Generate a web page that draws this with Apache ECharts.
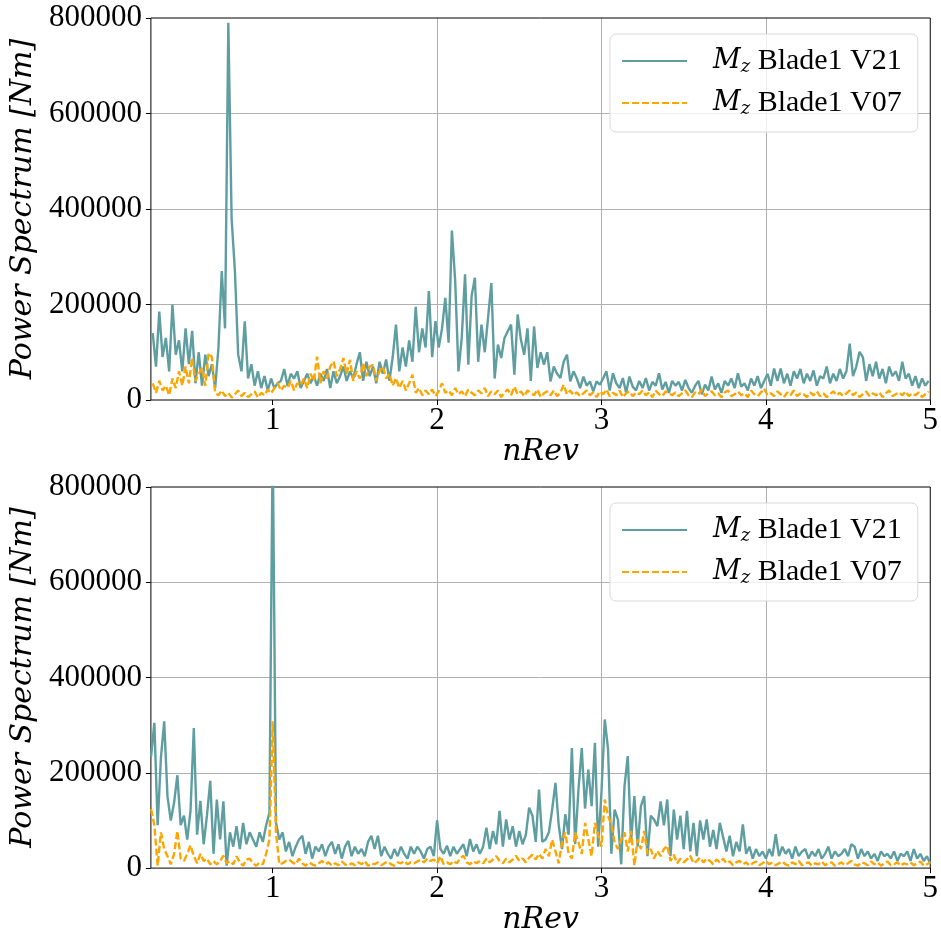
<!DOCTYPE html>
<html>
<head>
<meta charset="utf-8">
<script src="https://cdn.jsdelivr.net/npm/echarts@6/dist/echarts.min.js"></script>
<style>
  html, body { margin: 0; padding: 0; background: #fff; }
  #chart { width: 941px; height: 936px; }
</style>
</head>
<body>
<div id="chart"></div>
<script>
// frequency bins (nRev), uniform spacing of the spectrum
const topFreqStart = 0.27;
const bottomFreqStart = 0.26;
const freqStep = 0.02;

const xTicks = [1, 2, 3, 4, 5];
const yTicks = [0, 200000, 400000, 600000, 800000];

// upper panel
const topV21 = [
  140e3,70e3,185e3,90e3,130e3,60e3,200e3,95e3,125e3,60e3,
  150e3,75e3,145e3,35e3,100e3,30e3,95e3,50e3,75e3,25e3,
  110e3,270e3,150e3,790e3,380e3,270e3,95e3,60e3,165e3,45e3,
  75e3,30e3,60e3,25e3,50e3,20e3,45e3,25e3,35e3,40e3,
  65e3,30e3,55e3,45e3,60e3,25e3,40e3,55e3,35e3,50e3,
  30e3,55e3,40e3,65e3,25e3,60e3,35e3,50e3,70e3,40e3,
  60e3,45e3,75e3,100e3,40e3,80e3,50e3,70e3,35e3,80e3,
  55e3,85e3,40e3,90e3,158e3,60e3,110e3,70e3,125e3,80e3,
  195e3,100e3,150e3,110e3,228e3,90e3,165e3,110e3,150e3,214e3,
  120e3,355e3,250e3,60e3,130e3,263e3,74e3,218e3,256e3,80e3,
  158e3,100e3,172e3,245e3,45e3,116e3,88e3,130e3,144e3,158e3,
  53e3,179e3,126e3,95e3,150e3,40e3,154e3,67e3,100e3,74e3,
  100e3,39e3,70e3,55e3,46e3,80e3,95e3,39e3,60e3,45e3,
  25e3,49e3,30e3,39e3,18e3,39e3,32e3,45e3,60e3,20e3,
  56e3,35e3,25e3,46e3,15e3,49e3,28e3,20e3,40e3,25e3,
  46e3,20e3,38e3,30e3,56e3,22e3,38e3,15e3,40e3,30e3,
  38e3,20e3,42e3,25e3,15e3,30e3,40e3,12e3,32e3,20e3,
  49e3,22e3,35e3,15e3,40e3,30e3,45e3,25e3,56e3,28e3,
  35e3,20e3,45e3,30e3,50e3,25e3,40e3,55e3,30e3,66e3,
  40e3,66e3,35e3,55e3,30e3,60e3,45e3,65e3,35e3,55e3,
  40e3,62e3,30e3,50e3,45e3,70e3,35e3,55e3,40e3,65e3,
  45e3,60e3,118e3,50e3,70e3,101e3,90e3,40e3,75e3,50e3,
  80e3,45e3,65e3,35e3,70e3,50e3,60e3,40e3,80e3,45e3,
  55e3,30e3,50e3,25e3,45e3,30e3,40e3
];
const topV07 = [
  35e3,15e3,40e3,20e3,30e3,10e3,45e3,25e3,60e3,30e3,
  70e3,35e3,88e3,40e3,55e3,67e3,30e3,98e3,90e3,15e3,
  10e3,20e3,8e3,15e3,5e3,12e3,20e3,8e3,15e3,6e3,
  12e3,18e3,5e3,15e3,10e3,22e3,14e3,25e3,35e3,20e3,
  30e3,25e3,40e3,20e3,35e3,30e3,45e3,25e3,55e3,40e3,
  91e3,35e3,60e3,45e3,70e3,81e3,50e3,65e3,88e3,55e3,
  84e3,40e3,60e3,45e3,77e3,50e3,70e3,74e3,40e3,60e3,
  70e3,45e3,55e3,30e3,46e3,25e3,40e3,20e3,35e3,53e3,
  15e3,25e3,10e3,20e3,12e3,22e3,8e3,18e3,35e3,15e3,
  20e3,10e3,25e3,12e3,18e3,8e3,22e3,15e3,10e3,20e3,
  14e3,25e3,8e3,18e3,12e3,20e3,6e3,16e3,22e3,10e3,
  28e3,12e3,18e3,8e3,20e3,15e3,10e3,22e3,6e3,14e3,
  18e3,10e3,20e3,8e3,15e3,32e3,12e3,20e3,10e3,16e3,
  8e3,14e3,20e3,10e3,16e3,6e3,18e3,12e3,22e3,8e3,
  15e3,10e3,20e3,6e3,14e3,18e3,8e3,16e3,12e3,20e3,
  10e3,16e3,6e3,20e3,12e3,8e3,18e3,14e3,10e3,16e3,
  8e3,14e3,20e3,10e3,6e3,16e3,12e3,22e3,8e3,14e3,
  18e3,10e3,14e3,6e3,16e3,20e3,8e3,12e3,18e3,10e3,
  14e3,6e3,20e3,12e3,8e3,16e3,24e3,10e3,14e3,8e3,
  18e3,12e3,6e3,16e3,10e3,20e3,8e3,14e3,12e3,6e3,
  16e3,10e3,18e3,8e3,14e3,6e3,12e3,18e3,10e3,15e3,
  8e3,14e3,20e3,10e3,16e3,6e3,12e3,18e3,8e3,14e3,
  10e3,16e3,6e3,14e3,20e3,8e3,12e3,16e3,10e3,18e3,
  8e3,14e3,10e3,16e3,6e3,12e3,18e3
];

// lower panel
const bottomV21 = [
  234e3,305e3,90e3,232e3,308e3,150e3,100e3,137e3,195e3,90e3,
  110e3,60e3,120e3,294e3,70e3,141e3,50e3,110e3,183e3,30e3,
  144e3,60e3,140e3,5e3,75e3,45e3,88e3,40e3,95e3,50e3,
  75e3,60e3,45e3,75e3,55e3,90e3,116e3,900e3,95e3,60e3,
  75e3,35e3,55e3,25e3,45e3,60e3,68e3,30e3,55e3,20e3,
  45e3,35e3,50e3,25e3,45e3,55e3,30e3,50e3,20e3,45e3,
  57e3,25e3,45e3,30e3,40e3,25e3,55e3,68e3,40e3,68e3,
  25e3,45e3,30e3,20e3,40e3,25e3,45e3,30e3,20e3,45e3,
  30e3,45e3,35e3,20e3,40e3,45e3,25e3,100e3,40e3,30e3,
  47e3,25e3,45e3,30e3,40e3,50e3,25e3,61e3,35e3,50e3,
  30e3,45e3,85e3,40e3,78e3,50e3,120e3,45e3,102e3,60e3,
  88e3,45e3,78e3,50e3,70e3,127e3,110e3,55e3,165e3,55e3,
  60e3,75e3,123e3,179e3,90e3,40e3,113e3,70e3,252e3,50e3,
  165e3,252e3,125e3,207e3,130e3,263e3,45e3,160e3,312e3,249e3,
  30e3,123e3,102e3,8e3,172e3,235e3,55e3,151e3,45e3,130e3,
  151e3,25e3,110e3,102e3,88e3,140e3,90e3,144e3,25e3,123e3,
  60e3,110e3,40e3,120e3,35e3,95e3,25e3,100e3,60e3,102e3,
  45e3,80e3,40e3,95e3,65e3,35e3,68e3,25e3,55e3,35e3,
  92e3,30e3,45e3,20e3,40e3,25e3,35e3,20e3,40e3,25e3,
  71e3,25e3,45e3,30e3,40e3,20e3,45e3,25e3,35e3,40e3,
  20e3,35e3,25e3,40e3,20e3,30e3,45e3,20e3,35e3,25e3,
  30e3,40e3,25e3,50e3,45e3,20e3,40e3,25e3,35e3,20e3,
  30e3,15e3,35e3,25e3,30e3,20e3,35e3,15e3,30e3,25e3,
  35e3,15e3,40e3,20e3,30e3,15e3,25e3,10e3
];
const bottomV07 = [
  124e3,90e3,5e3,75e3,40e3,25e3,8e3,30e3,78e3,20e3,
  15e3,30e3,48e3,25e3,10e3,30e3,15e3,20e3,8e3,15e3,
  8e3,15e3,26e3,10e3,15e3,8e3,25e3,12e3,5e3,18e3,
  20e3,10e3,5e3,12e3,8e3,30e3,60e3,308e3,75e3,8e3,
  10e3,15e3,18e3,12e3,8e3,20e3,10e3,5e3,12e3,8e3,
  5e3,10e3,15e3,8e3,12e3,5e3,10e3,6e3,14e3,8e3,
  5e3,10e3,6e3,12e3,8e3,15e3,5e3,10e3,8e3,12e3,
  6e3,10e3,14e3,8e3,5e3,12e3,10e3,15e3,8e3,12e3,
  10e3,14e3,18e3,12e3,20e3,15e3,18e3,10e3,25e3,8e3,
  12e3,8e3,15e3,10e3,20e3,26e3,12e3,8e3,15e3,10e3,
  15e3,10e3,20e3,12e3,18e3,25e3,15e3,10e3,20e3,12e3,
  18e3,26e3,15e3,20e3,12e3,22e3,28e3,18e3,30e3,20e3,
  40e3,25e3,60e3,35e3,10e3,55e3,75e3,30e3,20e3,75e3,
  54e3,30e3,95e3,60e3,25e3,95e3,70e3,45e3,144e3,109e3,
  92e3,54e3,40e3,60e3,75e3,35e3,78e3,5e3,60e3,40e3,
  78e3,30e3,40e3,20e3,36e3,25e3,40e3,47e3,15e3,28e3,
  10e3,20e3,12e3,18e3,26e3,10e3,15e3,22e3,12e3,20e3,
  15e3,8e3,18e3,12e3,20e3,10e3,14e3,6e3,12e3,15e3,
  8e3,12e3,5e3,10e3,14e3,6e3,10e3,15e3,8e3,12e3,
  6e3,10e3,14e3,8e3,5e3,12e3,8e3,15e3,6e3,10e3,
  12e3,5e3,10e3,8e3,14e3,6e3,10e3,12e3,5e3,8e3,
  12e3,6e3,10e3,15e3,8e3,5e3,12e3,10e3,6e3,14e3,
  8e3,12e3,5e3,10e3,14e3,6e3,8e3,12e3,5e3,10e3,
  8e3,12e3,6e3,10e3,14e3,5e3,8e3,12e3
];

const seriesNames = ['Mz Blade1 V21', 'Mz Blade1 V07'];
const teal = '#5f9ea0';
const orange = '#ffa500';
const serif = 'Liberation Serif';
const mathFont = 'DejaVu Serif';

function pairs(start, values) {
  return values.map((v, i) => [+(start + i * freqStep).toFixed(2), v]);
}

const panels = [
  { top: 18, v21: pairs(topFreqStart, topV21), v07: pairs(topFreqStart, topV07) },
  { top: 487, v21: pairs(bottomFreqStart, bottomV21), v07: pairs(bottomFreqStart, bottomV07) }
];

const chart = echarts.init(document.getElementById('chart'), null, { renderer: 'canvas' });

const grid = [], xAxis = [], yAxis = [], series = [], legend = [];
const gridLine = { show: true, showMinLine: false, showMaxLine: false, lineStyle: { color: '#b0b0b0', width: 1 } };

panels.forEach((p, k) => {
  grid.push({
    left: 146, top: p.top, width: 786, height: 382,
    show: true, borderColor: '#000', borderWidth: 1, backgroundColor: 'transparent', z: 3
  });
  xAxis.push({
    type: 'value', gridIndex: k, min: 0.259, max: 5,
    name: 'nRev', nameLocation: 'middle', nameGap: 17,
    nameTextStyle: { fontFamily: mathFont, fontStyle: 'italic', fontSize: 30, color: '#000' },
    axisLine: { show: false },
    axisTick: { show: true, length: 5, customValues: xTicks, lineStyle: { color: '#000' } },
    axisLabel: {
      customValues: xTicks, margin: 5,
      fontFamily: serif, fontSize: 31, color: '#000'
    },
    splitLine: gridLine
  });
  yAxis.push({
    type: 'value', gridIndex: k, min: 0, max: 800000, interval: 200000,
    name: 'Power Spectrum [Nm]', nameLocation: 'middle', nameGap: 102, nameRotate: 90,
    nameTextStyle: { fontFamily: mathFont, fontStyle: 'italic', fontSize: 30, color: '#000' },
    axisLine: { show: false },
    axisTick: { show: true, length: 5, lineStyle: { color: '#000' } },
    axisLabel: {
      margin: 9, fontFamily: serif, fontSize: 31, color: '#000',
      formatter: v => String(v)
    },
    splitLine: gridLine
  });
  series.push({
    name: seriesNames[0], type: 'line', xAxisIndex: k, yAxisIndex: k,
    data: p.v21, symbol: 'none', animation: false,
    lineStyle: { color: teal, width: 2.4 }, itemStyle: { color: teal }
  });
  series.push({
    name: seriesNames[1], type: 'line', xAxisIndex: k, yAxisIndex: k,
    data: p.v07, symbol: 'none', animation: false,
    lineStyle: { color: orange, width: 2.4, type: [7, 3] }, itemStyle: { color: orange }
  });
  legend.push({
    orient: 'vertical', left: 610, top: p.top + 16,
    padding: [12, 16, 14, 11], itemGap: 12, itemWidth: 65, itemHeight: 14,
    backgroundColor: 'rgba(255,255,255,0.8)', borderColor: '#d9d9d9', borderWidth: 1, borderRadius: 6,
    selectedMode: false,
    itemStyle: { color: 'transparent', borderWidth: 0, opacity: 0 },
    data: seriesNames,
    formatter: name => '{m|M}{s|z}{t|' + name.slice(2) + '}',
    textStyle: {
      color: '#000',
      rich: {
        m: { fontFamily: mathFont, fontStyle: 'italic', fontSize: 27, color: '#000', padding: [0, 0, 0, 21] },
        s: { fontFamily: mathFont, fontStyle: 'italic', fontSize: 18, color: '#000', padding: [12, 0, 0, 0] },
        t: { fontFamily: serif, fontSize: 30, color: '#000' }
      }
    }
  });
});

chart.setOption({
  backgroundColor: '#fff',
  animation: false,
  grid, xAxis, yAxis, series, legend
});
</script>
</body>
</html>
